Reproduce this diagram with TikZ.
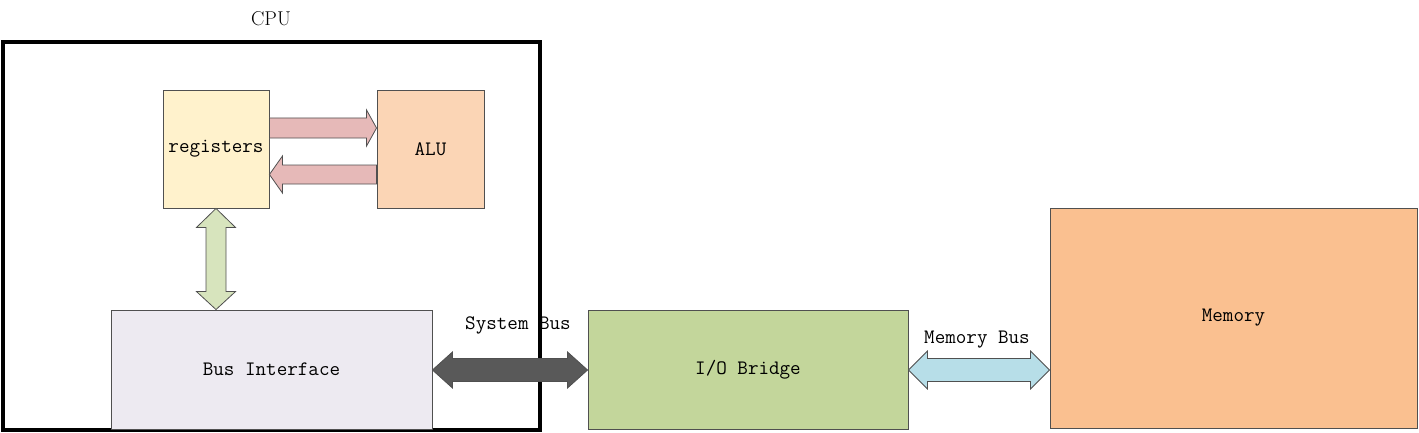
\documentclass[tikz,border=0pt]{standalone}
\usetikzlibrary{calc}
\definecolor{regc}{HTML}{FFF2CC}
\definecolor{aluc}{HTML}{FBD5B5}
\definecolor{rac}{HTML}{E6B9B8}
\definecolor{grc}{HTML}{D7E4BD}
\definecolor{busc}{HTML}{EDEAF1}
\definecolor{ioc}{HTML}{C3D69B}
\definecolor{sysc}{HTML}{595959}
\definecolor{memarc}{HTML}{B7DEE8}
\definecolor{memc}{HTML}{FAC090}
\definecolor{edge}{HTML}{505050}
\begin{document}
\begin{tikzpicture}[x=1pt,y=1pt,
  blockbox/.style={draw=edge,line width=0.9pt,inner sep=0pt,font=\ttfamily\fontsize{20.5}{24}\selectfont},
  arrowshape/.style={draw=edge,line width=0.8pt,line join=miter},
  lbl/.style={inner sep=0pt,font=\ttfamily\fontsize{20.5}{24}\selectfont}]
\useasboundingbox (0,0) rectangle (1419,432);
% CPU frame
\node[draw=black,line width=3.5pt,minimum width=537,minimum height=388,inner sep=0pt] (cpu) at (271.5,196) {};
\node[inner sep=0pt,font=\fontsize{20}{24}\selectfont] (cpulbl) at (271,413) {CPU};
% blocks
\node[blockbox,fill=regc,minimum width=106,minimum height=118] (reg) at (216,283) {registers};
\node[blockbox,fill=aluc,minimum width=107,minimum height=118] (alu) at (430.5,283) {ALU};
\node[blockbox,fill=busc,minimum width=321,minimum height=119] (bus) at (271.5,62.5) {Bus Interface};
\node[blockbox,fill=ioc,minimum width=320,minimum height=119] (io) at (748,62.5) {I/O Bridge};
\node[blockbox,fill=memc,minimum width=367,minimum height=220] (mem) at (1233.5,114) {Memory};
% registers -> ALU
\draw[arrowshape,fill=rac] let \p1=(reg.east), \p2=(alu.west) in
  (\x1,304+10) -- (\x2-10,304+10) -- (\x2-10,304+18) -- (\x2,304) -- (\x2-10,304-18) -- (\x2-10,304-10) -- (\x1,304-10) -- cycle;
% ALU -> registers
\draw[arrowshape,fill=rac] let \p1=(reg.east), \p2=(alu.west) in
  (\x2,257.5+9.5) -- (\x1+13,257.5+9.5) -- (\x1+13,257.5+18.5) -- (\x1,257.5) -- (\x1+13,257.5-18.5) -- (\x1+13,257.5-9.5) -- (\x2,257.5-9.5) -- cycle;
% registers <-> Bus Interface
\draw[arrowshape,fill=grc] let \p1=(reg.south), \p2=(bus.north) in
  (\x1,\y1) -- (\x1+19.5,\y1-19) -- (\x1+10,\y1-19) -- (\x1+10,\y2+18) -- (\x1+19.5,\y2+18) -- (\x1,\y2)
  -- (\x1-19.5,\y2+18) -- (\x1-10,\y2+18) -- (\x1-10,\y1-19) -- (\x1-19.5,\y1-19) -- cycle;
% System bus
\draw[arrowshape,fill=sysc] let \p1=(bus.east), \p2=(io.west) in
  (\x1,62) -- (\x1+20,62+18) -- (\x1+20,62+11.5) -- (\x2-20,62+11.5) -- (\x2-20,62+18) -- (\x2,62)
  -- (\x2-20,62-18) -- (\x2-20,62-11.5) -- (\x1+20,62-11.5) -- (\x1+20,62-18) -- cycle;
\node[lbl] (syslbl) at (518,107) {System Bus};
% Memory bus
\draw[arrowshape,fill=memarc] let \p1=(io.east), \p2=(mem.west) in
  (\x1,62) -- (\x1+19,62+19) -- (\x1+19,62+11.5) -- (\x2-19,62+11.5) -- (\x2-19,62+19) -- (\x2,62)
  -- (\x2-19,62-19) -- (\x2-19,62-11.5) -- (\x1+19,62-11.5) -- (\x1+19,62-19) -- cycle;
\node[lbl] (memlbl) at (977,92) {Memory Bus};
\end{tikzpicture}
\end{document}
